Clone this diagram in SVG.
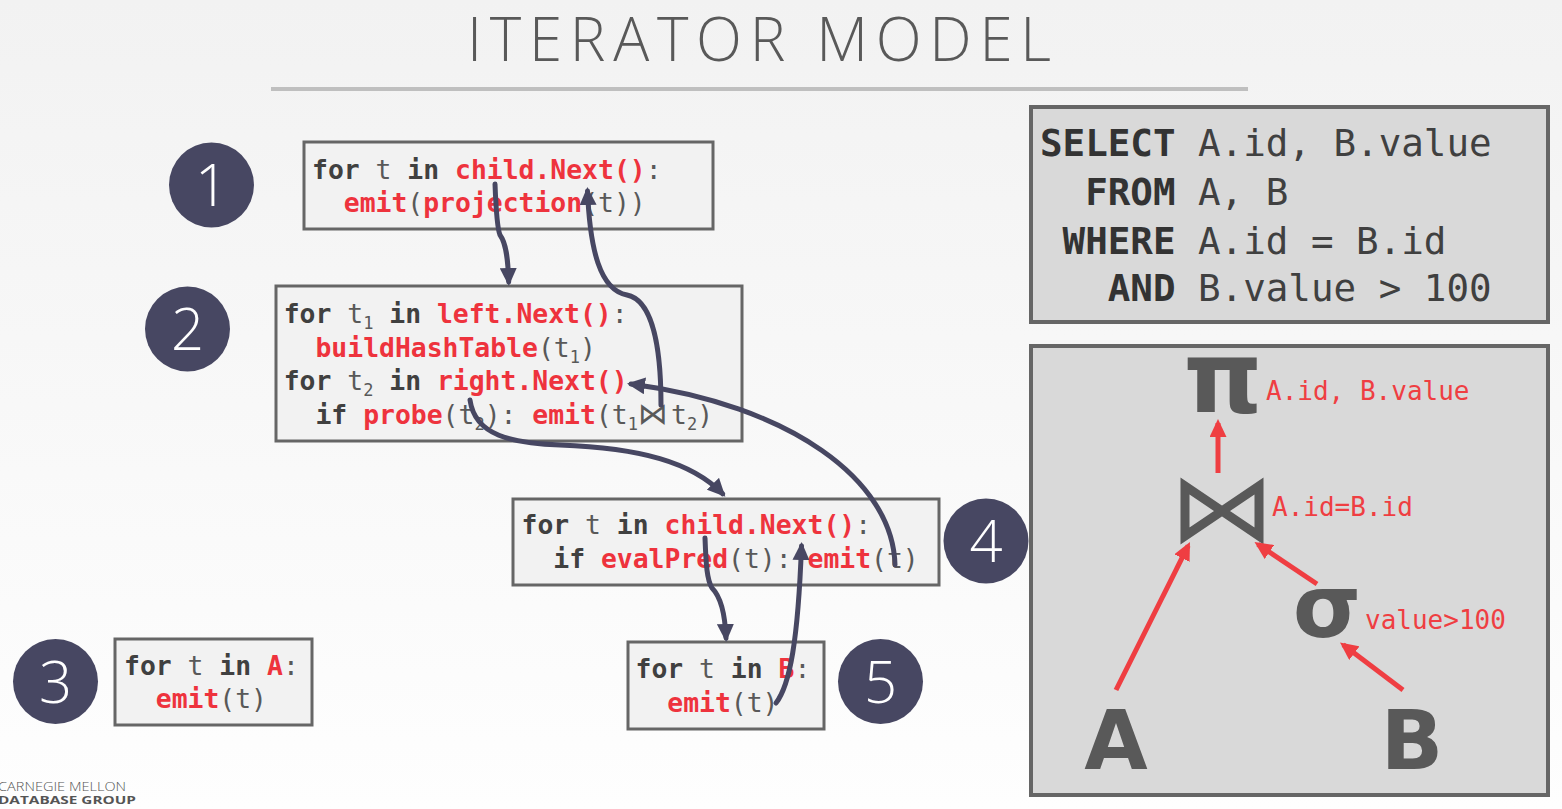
<svg xmlns="http://www.w3.org/2000/svg" width="1562" height="809" viewBox="0 0 1562 809">
<defs>
<linearGradient id="bg" x1="0" y1="0" x2="0" y2="1">
<stop offset="0" stop-color="#f2f2f2"/>
<stop offset="1" stop-color="#fefefe"/>
</linearGradient>
<marker id="ah" markerUnits="userSpaceOnUse" markerWidth="18" markerHeight="17" viewBox="0 0 18 17" refX="14" refY="8.5" orient="auto">
<path d="M0,0 L18,8.5 L0,17 z" fill="#474762"/>
</marker>
<marker id="rh" markerUnits="userSpaceOnUse" markerWidth="18" markerHeight="17" viewBox="0 0 18 17" refX="14" refY="8.5" orient="auto">
<path d="M0,0 L18,8.5 L0,17 z" fill="#ef3e42"/>
</marker>
</defs>
<style>
.box{fill:#f2f2f2;stroke:#666;stroke-width:3}
.gbox{fill:#d9d9d9;stroke:#666;stroke-width:4}
.circ{fill:#474762}
.num{font-family:"Open Sans","Liberation Sans",sans-serif;font-weight:300;font-size:58px;fill:#fff;text-anchor:middle}
.code{font-family:"DejaVu Sans Mono","Liberation Mono",monospace;font-size:26.4px;fill:#595959;white-space:pre}
.kw{font-weight:bold;fill:#404040}
.fn{font-weight:bold;fill:#ee333d}
.sub{font-size:17px}
.sql{font-family:"DejaVu Sans Mono","Liberation Mono",monospace;font-size:37.5px;fill:#404040;white-space:pre}
.sk{font-weight:bold;fill:#333}
.lbl{font-family:"DejaVu Sans Mono","Liberation Mono",monospace;font-size:26px;fill:#ef3e42}
.sym{font-family:"DejaVu Sans","Liberation Sans",sans-serif;font-weight:bold;fill:#595959;text-anchor:middle}
.conn{fill:none;stroke:#474762;stroke-width:5;stroke-linecap:round}
.red{fill:none;stroke:#ef3e42;stroke-width:5}
.foot{font-family:"Open Sans","Liberation Sans",sans-serif;fill:#555}
</style>
<rect x="0" y="0" width="1562" height="809" fill="url(#bg)"/>
<text x="467" y="61" font-family="'Open Sans','Liberation Sans',sans-serif" font-weight="300" font-size="60" fill="#595959" textLength="584" lengthAdjust="spacing">ITERATOR MODEL</text>
<rect x="271" y="87" width="977" height="4" fill="#bfbfbf"/>

<g id="marker1">
<circle class="circ" cx="211.5" cy="185" r="42.5"/>
<text class="num" x="211.5" y="206">1</text>
</g>
<g id="marker2">
<circle class="circ" cx="187.5" cy="329" r="42.5"/>
<text class="num" x="187.5" y="350">2</text>
</g>
<g id="marker3">
<circle class="circ" cx="55.5" cy="681.5" r="42.5"/>
<text class="num" x="55.5" y="702.5">3</text>
</g>
<g id="marker4">
<circle class="circ" cx="986" cy="541" r="42.5"/>
<text class="num" x="986" y="562">4</text>
</g>
<g id="marker5">
<circle class="circ" cx="880.5" cy="681.5" r="42.5"/>
<text class="num" x="880.5" y="702.5">5</text>
</g>

<g id="node1">
<rect class="box" x="304" y="142" width="409" height="87"/>
<text class="code" x="312" y="179"><tspan class="kw">for</tspan> t <tspan class="kw">in</tspan> <tspan class="fn">child.Next()</tspan>:</text>
<text class="code" x="312" y="212">  <tspan class="fn">emit</tspan>(<tspan class="fn">projection</tspan>(t))</text>
</g>

<g id="node2">
<rect class="box" x="276" y="286" width="466" height="155"/>
<text class="code" x="283.7" y="323"><tspan class="kw">for</tspan> t<tspan class="sub" dy="6">1</tspan><tspan dy="-6"> </tspan><tspan class="kw">in</tspan> <tspan class="fn">left.Next()</tspan>:</text>
<text class="code" x="283.7" y="357">  <tspan class="fn">buildHashTable</tspan>(t<tspan class="sub" dy="6">1</tspan><tspan dy="-6">)</tspan></text>
<text class="code" x="283.7" y="390"><tspan class="kw">for</tspan> t<tspan class="sub" dy="6">2</tspan><tspan dy="-6"> </tspan><tspan class="kw">in</tspan> <tspan class="fn">right.Next()</tspan></text>
<text class="code" x="283.7" y="424">  <tspan class="kw">if</tspan> <tspan class="fn">probe</tspan>(t<tspan class="sub" dy="6">2</tspan><tspan dy="-6">): </tspan><tspan class="fn">emit</tspan>(t<tspan class="sub" dy="6">1</tspan><tspan dy="-6" font-family="'DejaVu Sans',sans-serif" font-size="30">⋈</tspan><tspan x="671">t</tspan><tspan class="sub" dy="6">2</tspan><tspan dy="-6">)</tspan></text>
</g>

<g id="node3">
<rect class="box" x="115" y="639" width="197" height="86"/>
<text class="code" x="124" y="675"><tspan class="kw">for</tspan> t <tspan class="kw">in</tspan> <tspan class="fn">A</tspan>:</text>
<text class="code" x="124" y="708">  <tspan class="fn">emit</tspan>(t)</text>
</g>

<g id="node4">
<rect class="box" x="513" y="499" width="426" height="86"/>
<text class="code" x="521.5" y="534"><tspan class="kw">for</tspan> t <tspan class="kw">in</tspan> <tspan class="fn">child.Next()</tspan>:</text>
<text class="code" x="521.5" y="568">  <tspan class="kw">if</tspan> <tspan class="fn">evalPred</tspan>(t): <tspan class="fn">emit</tspan>(t)</text>
</g>

<g id="node5">
<rect class="box" x="628" y="642" width="196" height="87"/>
<text class="code" x="635.5" y="678"><tspan class="kw">for</tspan> t <tspan class="kw">in</tspan> <tspan class="fn">B</tspan>:</text>
<text class="code" x="635.5" y="712">  <tspan class="fn">emit</tspan>(t)</text>
</g>

<g id="connectors">
<path class="conn" d="M495,184 C496,210 497,228 500,235 C506,243 508,258 508.7,282" marker-end="url(#ah)"/>
<path class="conn" d="M661,405 C661,345 652,300 627,295 C600,290 590,250 587.5,191" marker-end="url(#ah)"/>
<path class="conn" d="M470,400 C475,436 512,443 560,445 C640,448 692,462 722.6,493.8" marker-end="url(#ah)"/>
<path class="conn" d="M895,565 C893,480 790,405 631,384" marker-end="url(#ah)"/>
<path class="conn" d="M705,538 C706,565 707,580 712,588 C720,596 725,612 726,638" marker-end="url(#ah)"/>
<path class="conn" d="M776,703 C790,685 798,640 801.5,546" marker-end="url(#ah)"/>
</g>

<g id="sql">
<rect class="gbox" x="1031" y="107" width="517" height="215"/>
<text class="sql" x="1040" y="156"><tspan class="sk">SELECT</tspan> A.id, B.value</text>
<text class="sql" x="1040" y="205">  <tspan class="sk">FROM</tspan> A, B</text>
<text class="sql" x="1040" y="254"> <tspan class="sk">WHERE</tspan> A.id = B.id</text>
<text class="sql" x="1040" y="301">   <tspan class="sk">AND</tspan> B.value &gt; 100</text>
</g>

<g id="plan">
<rect class="gbox" x="1031" y="346" width="517" height="449"/>
<g id="proj">
<text class="sym" x="1223" y="413" font-size="100" font-family="'Liberation Serif','DejaVu Serif',serif">π</text>
<text class="lbl" x="1266" y="400">A.id, B.value</text>
</g>
<g id="join">
<path d="M1185,486 L1185,536 L1222,511 Z M1259,486 L1259,536 L1222,511 Z" fill="none" stroke="#595959" stroke-width="9" stroke-linejoin="miter"/>
<text class="lbl" x="1272" y="516">A.id=B.id</text>
</g>
<g id="select">
<text class="sym" x="1327" y="637" font-size="88">σ</text>
<text class="lbl" x="1365" y="629">value&gt;100</text>
</g>
<g id="tableA">
<text class="sym" x="1116" y="769" font-size="82">A</text>
</g>
<g id="tableB">
<text class="sym" x="1412" y="769" font-size="82">B</text>
</g>
<g id="plan-edges">
<path class="red" d="M1218,473 L1218,423" marker-end="url(#rh)"/>
<path class="red" d="M1116,690 L1188.2,545.6" marker-end="url(#rh)"/>
<path class="red" d="M1317,584 L1257.8,544.2" marker-end="url(#rh)"/>
<path class="red" d="M1403,690 L1343.2,644.8" marker-end="url(#rh)"/>
</g>
</g>

<g id="footer">
<text class="foot" x="-2" y="791" font-weight="300" font-size="13" textLength="128" lengthAdjust="spacingAndGlyphs">CARNEGIE MELLON</text>
<text class="foot" x="-2" y="804" font-weight="bold" font-size="11" textLength="138" lengthAdjust="spacingAndGlyphs">DATABASE GROUP</text>
</g>
</svg>
